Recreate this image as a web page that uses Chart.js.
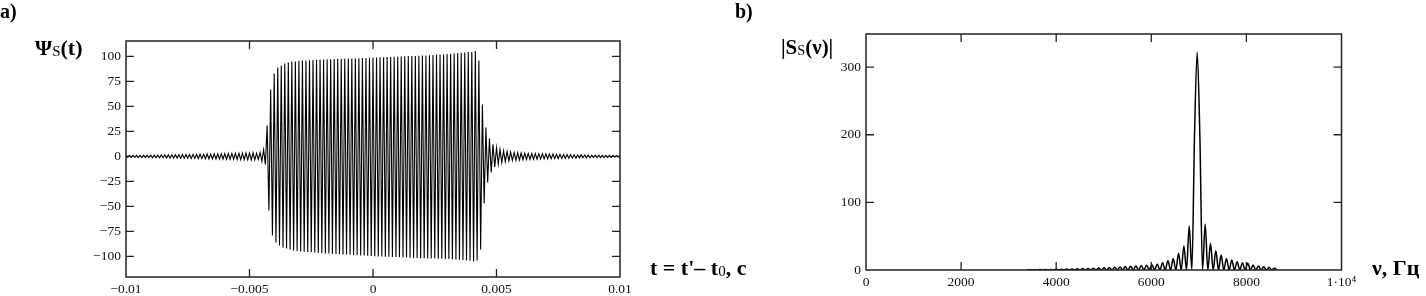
<!DOCTYPE html>
<html><head><meta charset="utf-8">
<script src="https://cdn.jsdelivr.net/npm/chart.js@4/dist/chart.umd.min.js"></script>
<style>
html,body{margin:0;padding:0;background:#fff;width:1426px;height:296px;overflow:hidden;position:relative;}
canvas{position:absolute;top:0;}
#c1{left:0;}
#c2{left:700px;}
.lbl{position:absolute;white-space:nowrap;color:#000;font-family:"Liberation Serif",serif;line-height:1;}
.lbl sub{font-size:0.68em;vertical-align:-0.08em;font-weight:normal;}
</style></head>
<body>
<canvas id="c1" width="640" height="296"></canvas>
<canvas id="c2" width="700" height="296"></canvas>
<div class="lbl" style="left:0px;top:1px;font-size:20px;font-weight:bold">a)</div>
<div class="lbl" style="left:735px;top:1px;font-size:20px;font-weight:bold">b)</div>
<div class="lbl" style="left:35px;top:37px;font-size:22px;font-weight:bold">Ψ<sub>S</sub>(t)</div>
<div class="lbl" style="left:781px;top:37px;font-size:21px;font-weight:bold">|S<sub>S</sub>(ν)|</div>
<div class="lbl" style="left:650px;top:257px;font-size:22px;font-weight:bold">t = t'– t<sub>0</sub>, c</div>
<div class="lbl" style="left:1372px;top:257px;font-size:22px;font-weight:bold">ν, Гц</div>
<script>
// ---- a) signal Ψ_S(t): successive extrema, uniformly sampled in time ----
const psiStart = -0.01;
const psiStep = 0.005 / 70;
const psiBefore = [
  1.0,-1.0,1.0,-1.1,1.0,-1.1,1.1,-1.1,1.1,-1.2,
  1.2,-1.2,1.2,-1.2,1.3,-1.3,1.3,-1.3,1.3,-1.4,
  1.4,-1.4,1.5,-1.5,1.5,-1.6,1.6,-1.6,1.7,-1.7,
  1.7,-1.8,1.8,-1.8,1.9,-1.9,1.9,-2.0,2.0,-2.0,
  2.0,-2.1,2.1,-2.2,2.2,-2.3,2.3,-2.4,2.4,-2.5,
  2.5,-2.6,2.6,-2.7,2.7,-2.8,2.8,-2.9,2.9,-3.0,
  3.0,-3.0,3.1,-3.1,3.2,-3.2,3.3,-3.3,3.4,-3.4,
  3.5,-3.5,3.6,-3.4,3.2,-3.0,4.0,-5.0,6.5,-8.0
];
const psiBurst = [
  31,-54,67,-79,83,-86,89,-89,91,-91,93,-92,94,-93,95,-94,95,-94.5,95.5,-95,
  95.8,-95.3,96.0,-95.6,96.2,-95.9,96.4,-96.2,96.6,-96.5,
  96.8,-96.8,97.0,-97.0,97.1,-97.2,97.2,-97.4,97.3,-97.6,
  97.4,-97.8,97.5,-98.0,97.6,-98.2,97.8,-98.4,97.9,-98.6,
  98.0,-98.8,98.2,-99.0,98.3,-99.2,98.5,-99.4,98.6,-99.6,
  98.8,-99.8,98.9,-100.0,99.1,-100.1,99.2,-100.3,99.4,-100.4,
  99.5,-100.6,99.7,-100.7,99.8,-100.9,100.0,-101.0,100.1,-101.2,
  100.3,-101.3,100.4,-101.5,100.5,-101.6,100.7,-101.8,100.8,-101.9,
  101.0,-102.0,101.2,-102.1,101.4,-102.2,101.6,-102.3,101.8,-102.4,
  102.0,-102.5,102.3,-102.7,102.6,-102.9,103.0,-103.1,103.3,-103.4,
  103.6,-103.7,104.0,-104.0,104.3,-104.4,104.5,-105.0,105.5,-104.0,
  96
];
const psiAfter = [
  -93,52,-47,29,-26,18,-16,12,-10.5,
  8.5,-7.5,6.8,-6.2,5.6,-5.2,4.8,-4.5,4.3,-4.1,
  3.9,-3.8,3.6,-3.5,3.4,-3.3,3.2,-3.1,3.0,-3.0,
  2.9,-2.9,2.8,-2.8,2.7,-2.7,2.6,-2.5,2.5,-2.4,
  2.4,-2.3,2.3,-2.2,2.2,-2.1,2.0,-2.0,1.9,-1.9,
  1.8,-1.8,1.7,-1.7,1.6,-1.6,1.5,-1.5,1.5,-1.4,
  1.4,-1.4,1.3,-1.3,1.3,-1.2,1.2,-1.2,1.2,-1.1,
  1.1,-1.1,1.1,-1.0,1.0,-1.0,1.0,-0.9,0.9,-0.9,0.9
];
const leftXTicks = [-0.01, -0.005, 0, 0.005, 0.01];
const leftXTickLabels = ['\u22120.01', '\u22120.005', '0', '0.005', '0.01'];
const leftYTicks = [-100, -75, -50, -25, 0, 25, 50, 75, 100];
const leftYTickLabels = ['\u2212100', '\u221275', '\u221250', '\u221225', '0', '25', '50', '75', '100'];

// ---- b) spectrum |S_S(ν)|: lobe maxima and zeros on a uniform frequency grid ----
const specStart = 3381;
const specStep = 56;
const specLeft = [0,0.4,0,0.5,0,0.6,0,0.7,0,0.8,0,1.0,0,1.2,0,1.4,0,1.6,0,1.8,0,2.1,0,2.4,0,2.7,0,3.0,0,3.4,0,3.8,0,4.2,0,4.6,0,5.0,0,5.5,0,6.0,0,6.6,0,7.2,0,7.9,0,8.9,0,10.8,0,13.8,0,17,0,24.6,0,35.5,0,65,0];
const specMain = [200, 322, 200];
const specRight = [0,67.5,0,39.4,0,28.5,0,22,0,17,0,14.8,0,12.3,0,10.8,0,9.8,0,7.4,0,5.9,0,4.9,0,3.9,0,2.5,0];
const rightXTicks = [0, 2000, 4000, 6000, 8000, 10000];
const rightXTickLabels = ['0', '2000', '4000', '6000', '8000', '1\u00B710\u2074'];
const rightYTicks = [0, 100, 200, 300];
const rightYTickLabels = ['0', '100', '200', '300'];

const psi = psiBefore.concat(psiBurst, psiAfter);
const psiPoints = psi.map((v, i) => ({ x: psiStart + i * psiStep, y: v }));
const spec = specLeft.concat(specMain, specRight);
const specPoints = spec.map((v, i) => ({ x: specStart + i * specStep, y: v }));

const tickFont = { family: '"Liberation Serif", serif', size: 13.5 };

const frameTicks = {
  id: 'frameTicks',
  afterDatasetsDraw(chart) {
    const { ctx, chartArea: a, scales: { x, y } } = chart;
    ctx.save();
    ctx.strokeStyle = '#222';
    ctx.lineWidth = 1.5;
    ctx.strokeRect(a.left, a.top, a.right - a.left, a.bottom - a.top);
    ctx.lineWidth = 1.3;
    ctx.beginPath();
    const L = 8;
    x.ticks.forEach(t => {
      const p = x.getPixelForValue(t.value);
      if (p > a.left + 1 && p < a.right - 1) {
        ctx.moveTo(p, a.bottom); ctx.lineTo(p, a.bottom - L);
        ctx.moveTo(p, a.top); ctx.lineTo(p, a.top + L);
      }
    });
    y.ticks.forEach(t => {
      const p = y.getPixelForValue(t.value);
      if (p > a.top + 1 && p < a.bottom - 1) {
        ctx.moveTo(a.left, p); ctx.lineTo(a.left + L, p);
        ctx.moveTo(a.right, p); ctx.lineTo(a.right - L, p);
      }
    });
    ctx.stroke();
    ctx.restore();
  }
};

function axisX(min, max, ticks, labels, h) {
  return {
    type: 'linear', min, max,
    grid: { display: false, drawTicks: false },
    border: { display: false },
    afterBuildTicks: s => { s.ticks = ticks.map(v => ({ value: v })); },
    afterFit: s => { s.height = h; },
    ticks: { padding: 4, maxRotation: 0, autoSkip: false, color: '#111', font: tickFont,
             callback: (v, i) => labels[i] }
  };
}
function axisY(min, max, ticks, labels, w) {
  return {
    type: 'linear', min, max,
    grid: { display: false, drawTicks: false },
    border: { display: false },
    afterBuildTicks: s => { s.ticks = ticks.map(v => ({ value: v })); },
    afterFit: s => { s.width = w; },
    ticks: { padding: 5, autoSkip: false, color: '#111', font: tickFont,
             callback: (v, i) => labels[i] }
  };
}

new Chart(document.getElementById('c1'), {
  type: 'line',
  data: { datasets: [{ data: psiPoints, borderColor: '#000', borderWidth: 1.1, pointRadius: 0, tension: 0, fill: false }] },
  options: {
    responsive: false, animation: false, events: [],
    layout: { padding: { left: 0, top: 41, right: 20, bottom: 0 } },
    plugins: { legend: { display: false }, tooltip: { enabled: false } },
    scales: {
      x: axisX(-0.01, 0.01, leftXTicks, leftXTickLabels, 19),
      y: axisY(-120.6, 115.4, leftYTicks, leftYTickLabels, 126)
    }
  },
  plugins: [frameTicks]
});

new Chart(document.getElementById('c2'), {
  type: 'line',
  data: { datasets: [{ data: specPoints, borderColor: '#000', borderWidth: 1.5, pointRadius: 0, cubicInterpolationMode: 'monotone', fill: false }] },
  options: {
    responsive: false, animation: false, events: [],
    layout: { padding: { left: 0, top: 34, right: 58.5, bottom: 0 } },
    plugins: { legend: { display: false }, tooltip: { enabled: false } },
    scales: {
      x: axisX(0, 10000, rightXTicks, rightXTickLabels, 26),
      y: axisY(0, 349, rightYTicks, rightYTickLabels, 166)
    }
  },
  plugins: [frameTicks]
});
</script>
</body></html>
